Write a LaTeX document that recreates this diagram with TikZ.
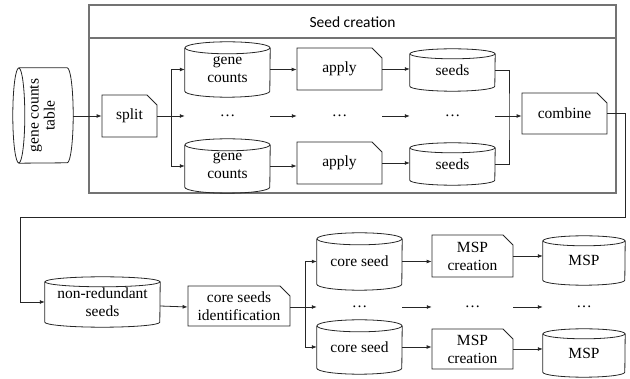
\documentclass[tikz,border=0pt]{standalone}
\usepackage{fontspec}
\setmainfont{Liberation Serif}
\newfontfamily\serifont{Liberation Serif}
\newfontfamily\titlefont{Carlito}
\usetikzlibrary{shapes.misc,calc,arrows.meta}
\tikzset{
  txt/.style={font=\serifont\fontsize{15.5}{18}\selectfont},
  shapeline/.style={draw=black!85, line width=0.8pt},
  proc/.style={chamfered rectangle, chamfered rectangle corners=north east,
    chamfered rectangle xsep=5pt, chamfered rectangle ysep=5pt,
    shapeline, fill=white, inner sep=0pt, align=center, txt},
  cylbox/.style={draw=none, inner sep=0pt, align=center, txt},
  dotsbox/.style={draw=none, inner sep=0pt, minimum height=14pt, txt},
  arr/.style={draw=black!85, line width=0.8pt, -{Latex[length=5pt,width=4pt]}},
  conn/.style={draw=black!85, line width=0.8pt},
  frame/.style={draw=black!55, line width=1.1pt}
}
\newcommand\cylv[3]{%
  \draw[shapeline] ($(#1.north)+(0pt,-#3)$) ellipse [x radius=#2, y radius=#3];
  \draw[shapeline] ($(#1.north west)+(0pt,-#3)$) -- ($(#1.south west)+(0pt,#3)$)
    arc[start angle=180, end angle=360, x radius=#2, y radius=#3]
    -- ($(#1.north east)+(0pt,-#3)$);
}
\begin{document}
\begin{tikzpicture}[x=1pt,y=-1pt]
\useasboundingbox (0,0) rectangle (630,379);
% Seed creation frame
\draw[frame] (89,5) rectangle (616,193);
\draw[frame] (89,38) -- (616,38);
\node[font=\titlefont\fontsize{15.5}{18}\selectfont] (title) at (352.5,22) {Seed creation};

% gene counts table (horizontal cylinder)
\node[cylbox, minimum width=60pt, minimum height=95pt] (gct) at (43,115.5)
  {\rotatebox{90}{\begin{tabular}{@{}c@{}}gene counts\\[-2pt]table\end{tabular}}};
\draw[shapeline] ($(gct.west)+(6pt,0pt)$) ellipse [x radius=6pt, y radius=47.5pt];
\draw[shapeline] ($(gct.north west)+(6pt,0pt)$) -- ($(gct.north east)+(-6pt,0pt)$)
  arc[start angle=90, end angle=-90, x radius=6pt, y radius=47.5pt]
  -- ($(gct.south west)+(6pt,0pt)$);

\node[proc, minimum width=55pt, minimum height=42pt] (split) at (129.5,116) {split};

\node[cylbox, minimum width=85pt, minimum height=55pt] (gc1) at (227.5,69.5) {gene\\counts};
\cylv{gc1}{42.5pt}{6pt}
\node[cylbox, minimum width=85pt, minimum height=54pt] (gc2) at (227.5,166) {gene\\counts};
\cylv{gc2}{42.5pt}{6pt}
\node[dotsbox, minimum width=85pt] (d1) at (227.5,116) {\dots};

\node[proc, minimum width=85pt, minimum height=42pt] (ap1) at (339.5,69) {apply};
\node[proc, minimum width=85pt, minimum height=42pt] (ap2) at (339.5,163) {apply};
\node[dotsbox, minimum width=85pt] (d2) at (339.5,116) {\dots};

\node[cylbox, minimum width=85pt, minimum height=42pt] (sd1) at (452.5,70) {seeds};
\cylv{sd1}{42.5pt}{5pt}
\node[cylbox, minimum width=85pt, minimum height=42pt] (sd2) at (452.5,164) {seeds};
\cylv{sd2}{42.5pt}{5pt}
\node[dotsbox, minimum width=85pt] (d3) at (452.5,116) {\dots};

\node[proc, minimum width=85pt, minimum height=41pt] (comb) at (564.5,113.5) {combine};

% lower part
\node[cylbox, minimum width=115pt, minimum height=50pt] (nrs) at (102.5,302) {non-redundant\\seeds};
\cylv{nrs}{57.5pt}{5pt}
\node[proc, minimum width=102pt, minimum height=40pt] (csi) at (239,306) {core seeds\\identification};

\node[cylbox, minimum width=85pt, minimum height=57pt] (cs1) at (359.5,261.5) {core seed};
\cylv{cs1}{42.5pt}{6pt}
\node[cylbox, minimum width=85pt, minimum height=54pt] (cs2) at (359.5,347) {core seed};
\cylv{cs2}{42.5pt}{6pt}
\node[dotsbox, minimum width=85pt] (d4) at (359.5,307) {\dots};

\node[proc, minimum width=81pt, minimum height=42pt] (mc1) at (472.5,256) {MSP\\creation};
\node[proc, minimum width=81pt, minimum height=40pt] (mc2) at (472.5,349) {MSP\\creation};
\node[dotsbox, minimum width=81pt] (d5) at (472.5,307) {\dots};

\node[cylbox, minimum width=82pt, minimum height=49pt] (msp1) at (584,260.5) {MSP};
\cylv{msp1}{41pt}{5pt}
\node[cylbox, minimum width=82pt, minimum height=48pt] (msp2) at (584,353) {MSP};
\cylv{msp2}{41pt}{5pt}
\node[dotsbox, minimum width=82pt] (d6) at (584,307) {\dots};

% connectors upper
\coordinate (js) at (171,116);
\coordinate (jc) at (509,116);
\draw[arr] (gct.east |- split.west) -- (split.west);
\draw[arr] (split.east) -- (d1.west);
\draw[arr] (js) |- (gc1.west);
\draw[arr] (js) |- (gc2.west);
\draw[arr] (gc1.east) -- (gc1.east -| ap1.west);
\draw[arr] (gc2.east) -- (gc2.east -| ap2.west);
\draw[arr] (d1.east) -- (d2.west);
\draw[arr] (ap1.east) -- (ap1.east -| sd1.west);
\draw[arr] (ap2.east) -- (ap2.east -| sd2.west);
\draw[arr] (d2.east) -- (d3.west);
\draw[conn] (sd1.east) -| (jc) |- (sd2.east);
\draw[arr] (d3.east) -- (d3.east -| comb.west);

% return connector
\coordinate (r1) at (625,217);
\coordinate (r2) at (20,217);
\draw[arr] (comb.east) -| (r1) -- (r2) |- (nrs.west);

% connectors lower
\coordinate (jm) at (305,307);
\draw[arr] (csi.west -| nrs.east) -- (csi.west |- d4.west);
\draw[arr] (csi.east |- d4.west) -- (d4.west);
\draw[arr] (jm) |- (cs1.west);
\draw[arr] (jm) |- (cs2.west);
\draw[arr] (d4.east) -- (d5.west);
\draw[arr] (d5.east) -- (d6.west);
\draw[arr] (cs1.east) -- (cs1.east -| mc1.west);
\draw[arr] (cs2.east) -- (cs2.east -| mc2.west);
\draw[arr] (mc1.east) -- (mc1.east -| msp1.west);
\draw[arr] (mc2.east) -- (mc2.east -| msp2.west);
\end{tikzpicture}
\end{document}
